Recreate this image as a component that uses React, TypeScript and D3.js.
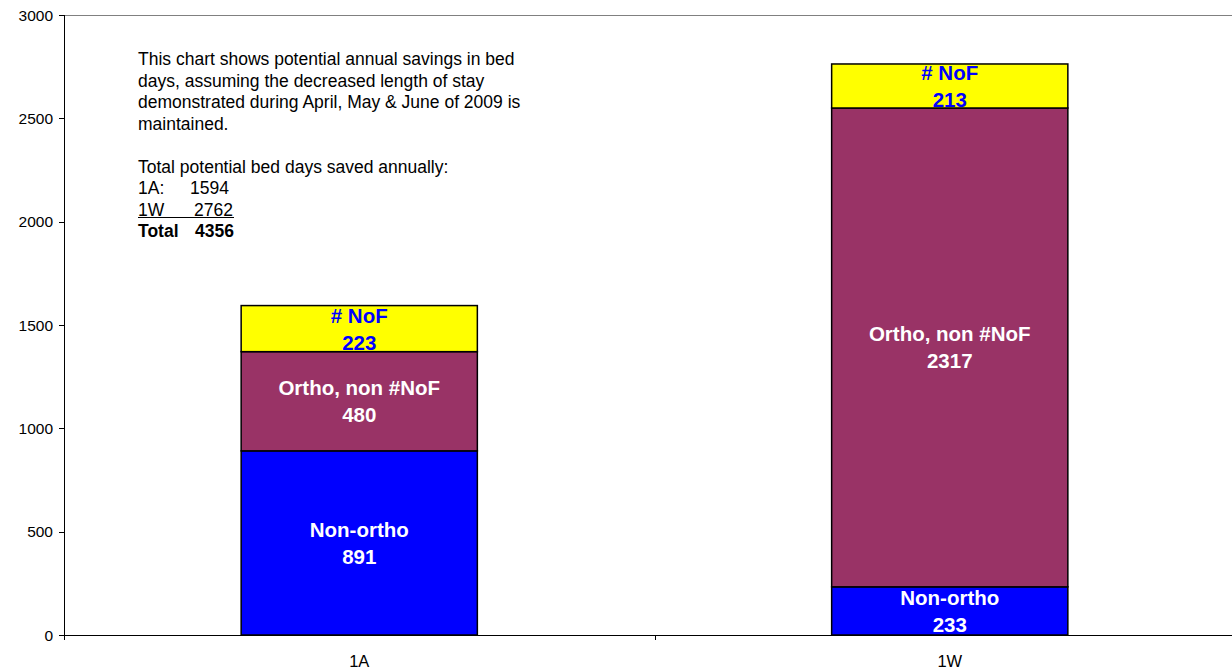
import React from "react";
import * as d3 from "d3";

const categories = ["1A", "1W"];
const seriesNames = ["Non-ortho", "Ortho, non #NoF", "# NoF"];
const nonOrtho = [891, 233];
const orthoNonNoF = [480, 2317];
const noF = [223, 213];
const yTicks = [0, 500, 1000, 1500, 2000, 2500, 3000];
const noteLines = [
  "This chart shows potential annual savings in bed",
  "days, assuming the decreased length of stay",
  "demonstrated during April, May & June of 2009 is",
  "maintained.",
];
const totalsHeading = "Total potential bed days saved annually:";
const totals = [
  { label: "1A:", value: "1594" },
  { label: "1W", value: "2762" },
  { label: "Total", value: "4356" },
];

const W = 1232;
const H = 670;
const FONT = "'Liberation Sans', Arial, sans-serif";

export default function App() {
  const left = 64;
  const top = 15;
  const bottom = 635;
  const right = 1245;

  const x = d3.scaleBand<string>().domain(categories).range([left, right]).paddingInner(0).paddingOuter(0);
  const y = d3.scaleLinear().domain([0, 3000]).range([bottom, top]);
  const barW = x.bandwidth() * 0.4;

  const colors = ["#0000FF", "#993366", "#FFFF00"];
  const textColors = ["#FFFFFF", "#FFFFFF", "#0000FF"];
  const seriesVals = [nonOrtho, orthoNonNoF, noF];

  const stackData = categories.map((c, i) => {
    const o: any = { cat: c };
    seriesNames.forEach((s, k) => (o[s] = seriesVals[k][i]));
    return o;
  });
  const stacked = d3.stack<any>().keys(seriesNames)(stackData);

  const lineY = (i: number) => 65 + 21.5 * i;
  const noteSize = 17.5;

  return (
    <svg width={W} height={H} style={{ position: "absolute", left: 0, top: 0, background: "#fff" }} fontFamily={FONT}>
      <rect x={0} y={0} width={W} height={H} fill="#fff" />
      {/* plot border top */}
      <line x1={left} x2={W} y1={top + 0.5} y2={top + 0.5} stroke="#808080" strokeWidth={1} />
      {/* y axis */}
      <line x1={left + 0.5} x2={left + 0.5} y1={top} y2={bottom} stroke="#000" strokeWidth={1} />
      {yTicks.map((t) => (
        <g key={t}>
          <line x1={left - 5} x2={left} y1={Math.round(y(t)) + 0.5} y2={Math.round(y(t)) + 0.5} stroke="#000" />
          <text x={53} y={y(t) + 5.5} textAnchor="end" fontSize={15.5} fill="#000">
            {t}
          </text>
        </g>
      ))}
      {/* bars */}
      {stacked.map((layer, k) =>
        layer.map((d, i) => {
          const cx = (x(categories[i]) as number) + x.bandwidth() / 2;
          const y0 = y(d[0]);
          const y1 = y(d[1]);
          const mid = (y0 + y1) / 2;
          return (
            <g key={`${k}-${i}`}>
              <rect x={cx - barW / 2} y={y1} width={barW} height={y0 - y1} fill={colors[k]} stroke="#000" strokeWidth={1.5} />
              <text x={cx} y={mid - 6} textAnchor="middle" fontSize={20.5} fontWeight="bold" fill={textColors[k]}>
                {seriesNames[k]}
              </text>
              <text x={cx} y={mid + 21} textAnchor="middle" fontSize={20.5} fontWeight="bold" fill={textColors[k]}>
                {seriesVals[k][i]}
              </text>
            </g>
          );
        })
      )}
      {/* x axis */}
      <line x1={left} x2={W} y1={bottom + 0.5} y2={bottom + 0.5} stroke="#000" strokeWidth={1} />
      {[left, ...categories.slice(1).map((c) => x(c) as number)].map((t, i) => (
        <line key={i} x1={Math.round(t) + 0.5} x2={Math.round(t) + 0.5} y1={bottom} y2={bottom + 5} stroke="#000" />
      ))}
      {categories.map((c) => (
        <text key={c} x={(x(c) as number) + x.bandwidth() / 2} y={666.5} textAnchor="middle" fontSize={16.5} fill="#000">
          {c}
        </text>
      ))}
      {/* note */}
      {noteLines.map((l, i) => (
        <text key={i} x={138} y={lineY(i)} fontSize={noteSize} fill="#000">
          {l}
        </text>
      ))}
      <text x={138} y={lineY(5)} fontSize={noteSize} fill="#000">
        {totalsHeading}
      </text>
      <text x={138} y={lineY(6)} fontSize={noteSize} fill="#000">
        {totals[0].label}
      </text>
      <text x={190} y={lineY(6)} fontSize={noteSize} fill="#000">
        {totals[0].value}
      </text>
      <text x={138} y={lineY(7)} fontSize={noteSize} fill="#000">
        {totals[1].label}
      </text>
      <text x={194} y={lineY(7)} fontSize={noteSize} fill="#000">
        {totals[1].value}
      </text>
      <line x1={138} x2={234} y1={lineY(7) + 2} y2={lineY(7) + 2} stroke="#000" strokeWidth={1.2} />
      <text x={138} y={lineY(8)} fontSize={noteSize} fontWeight="bold" fill="#000">
        {totals[2].label}
      </text>
      <text x={195} y={lineY(8)} fontSize={noteSize} fontWeight="bold" fill="#000">
        {totals[2].value}
      </text>
    </svg>
  );
}
